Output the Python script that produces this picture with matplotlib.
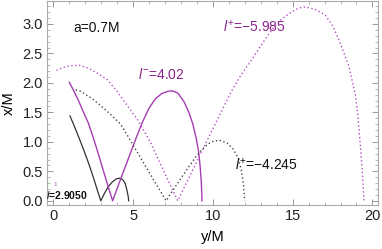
import matplotlib
matplotlib.use("Agg")
import matplotlib.pyplot as plt
from matplotlib.ticker import MultipleLocator

plt.rcParams['font.family'] = ['Liberation Sans', 'DejaVu Sans']
plt.rcParams['mathtext.fontset'] = 'custom'
plt.rcParams['mathtext.it'] = 'Liberation Sans:italic'
plt.rcParams['mathtext.rm'] = 'Liberation Sans'

# ---------------------------
# data (y/M horizontal, x/M vertical)
# ---------------------------
# l = 2.9050, black solid
blk_y = [1.05, 1.3, 1.6, 1.9, 2.2, 2.5, 2.8, 2.98,
         3.2, 3.45, 3.7, 3.95, 4.15, 4.35, 4.5, 4.62, 4.7, 4.73]
blk_x = [1.44, 1.28, 1.08, 0.87, 0.65, 0.41, 0.15, 0.0,
         0.12, 0.24, 0.32, 0.37, 0.385, 0.36, 0.3, 0.18, 0.07, 0.0]

# l- = 4.02, magenta solid
mag_y = [1.01, 1.3, 1.6, 1.9, 2.2, 2.5, 2.8, 3.1, 3.4, 3.72,
         4.2, 4.7, 5.2, 5.6, 6.0, 6.4, 6.8, 7.2, 7.45, 7.8, 8.2, 8.5,
         8.75, 8.95, 9.1, 9.2, 9.27, 9.31, 9.32]
mag_x = [2.01, 1.86, 1.69, 1.5, 1.32, 1.08, 0.82, 0.55, 0.28, 0.0,
         0.35, 0.71, 1.07, 1.34, 1.57, 1.73, 1.82, 1.86, 1.865, 1.83, 1.68, 1.5,
         1.3, 1.07, 0.85, 0.6, 0.35, 0.12, 0.0]

# l+ = -4.245, black dotted
bdot_y = [1.41, 1.7, 2.0, 2.4, 2.78, 3.2, 3.7, 4.25, 4.8, 5.3, 5.8, 6.3, 6.7, 7.07,
          7.5, 8.0, 8.5, 9.0, 9.5, 9.9, 10.4, 10.9, 11.3, 11.6, 11.8, 11.93, 12.0]
bdot_x = [1.88, 1.86, 1.81, 1.74, 1.66, 1.56, 1.44, 1.29, 1.04, 0.81, 0.58, 0.35, 0.17, 0.0,
          0.18, 0.38, 0.58, 0.77, 0.92, 1.0, 1.03, 0.98, 0.87, 0.72, 0.5, 0.25, 0.0]

# l+ = -5.985, magenta dotted
mdot_y = [0.21, 0.6, 1.0, 1.62, 2.2, 2.8, 3.41, 4.0, 4.6, 5.3, 5.72, 6.12, 6.56, 7.0, 7.4, 7.8,
          8.5, 9.2, 10.0, 10.6, 11.17, 11.8, 12.43, 13.0, 13.69, 14.3, 14.95, 15.4, 15.79,
          16.4, 17.05, 17.5, 17.9, 18.2, 18.53, 18.95, 19.1, 19.26, 19.38, 19.47]
mdot_x = [2.21, 2.26, 2.29, 2.3, 2.25, 2.16, 2.05, 1.86, 1.63, 1.37, 1.17, 0.98, 0.72, 0.46, 0.23, 0.0,
          0.39, 0.78, 1.22, 1.55, 1.86, 2.15, 2.39, 2.63, 2.9, 3.08, 3.21, 3.27, 3.29,
          3.25, 3.15, 2.97, 2.73, 2.52, 2.28, 1.77, 1.4, 0.89, 0.45, 0.0]

purple_txt = '#8E248E'

fig = plt.figure(figsize=(3.82, 2.49), dpi=100)
ax = fig.add_axes([0.123, 0.177, 0.867, 0.819])

ax.plot(blk_y, blk_x, '-', color='#333333', lw=0.9)
ax.plot(mag_y, mag_x, '-', color='#A63DB3', lw=1.0)
ax.plot(bdot_y, bdot_x, color='#444444', lw=1.0, ls=(0, (1, 1.8)))
ax.plot(mdot_y, mdot_x, color='#B54CC6', lw=1.0, ls=(0, (1, 1.8)))

ax.set_xlim(-0.39, 20.36)
ax.set_ylim(-0.07, 3.39)

ax.xaxis.set_major_locator(MultipleLocator(5))
ax.xaxis.set_minor_locator(MultipleLocator(1))
ax.yaxis.set_major_locator(MultipleLocator(0.5))
ax.yaxis.set_minor_locator(MultipleLocator(0.1))
ax.tick_params(which='both', direction='in', top=True, right=True,
               color='#999999', labelsize=10.5, labelcolor='#222222', pad=3)
ax.tick_params(which='major', length=4, width=0.7)
ax.tick_params(which='minor', length=2, width=0.5)
for s in ax.spines.values():
    s.set_color('#aaaaaa')
    s.set_linewidth(0.8)

ax.set_xlabel('y/M', fontsize=10.5, labelpad=5)
ax.set_ylabel('x/M', fontsize=10.5, labelpad=5)

ax.text(1.24, 2.93, 'a=0.7M', fontsize=10, va='center', color='#111111')
ax.text(5.31, 2.15, '$l^{-}$=4.02', fontsize=10, va='center', color=purple_txt)
ax.text(10.64, 2.95, '$l^{+}$=\u22125.985', fontsize=10, va='center', color=purple_txt)
ax.text(11.37, 0.61, '$l^{+}$=\u22124.245', fontsize=10, va='center', color='#111111')
ax.text(-0.45, 0.1, '$l$=2.9050', fontsize=7.5, fontweight='bold', va='center',
        color='#111111', clip_on=True)
ax.text(0.02, 0.27, '1', fontsize=4.5, va='center', color='#B54CC6')

fig.savefig('out.png', dpi=100)
